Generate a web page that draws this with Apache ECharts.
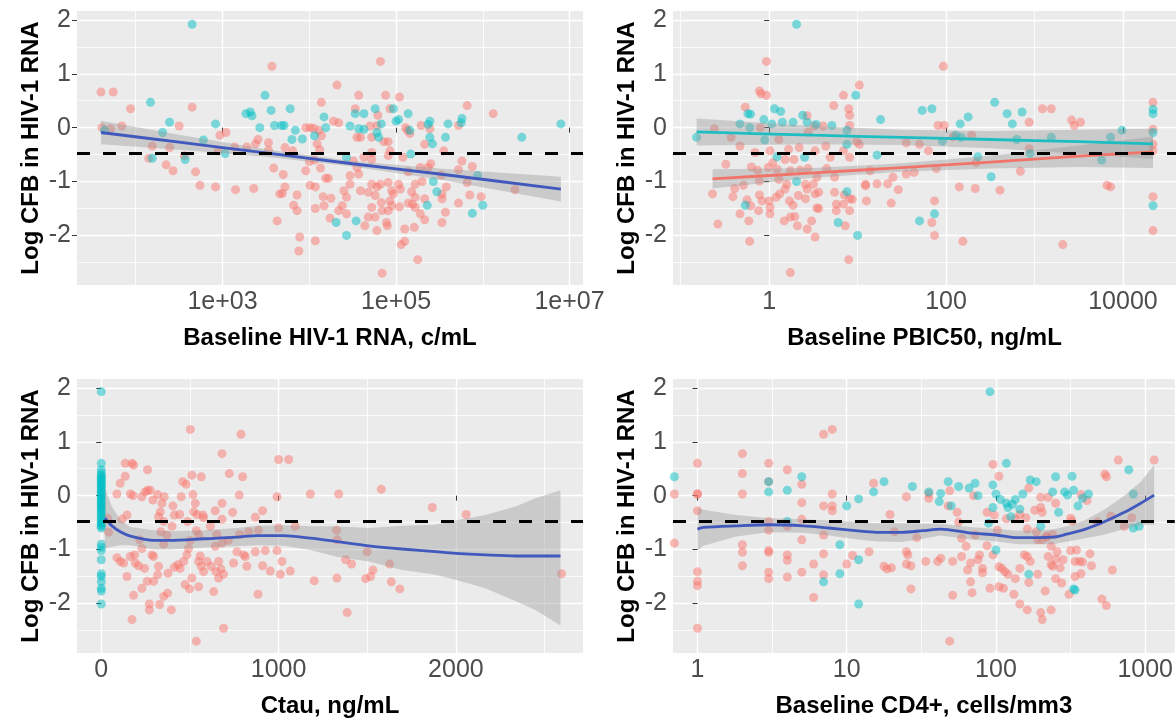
<!DOCTYPE html>
<html><head><meta charset="utf-8">
<script src="https://cdn.jsdelivr.net/npm/echarts@6/dist/echarts.min.js"></script>
<style>html,body{margin:0;padding:0;background:#fff}#c{width:1176px;height:721px}</style>
</head><body><div id="c"></div>
<script>
// ---------- shared ----------
const yTitle = 'Log CFB in HIV-1 RNA';
const yMajor = [-2, -1, 0, 1, 2];
const yMinor = [-2.5, -1.5, -0.5, 0.5, 1.5];
const yRange = [-2.92, 2.165];
const refLine = -0.48;

// ---------- panel 1: Baseline HIV-1 RNA (log10 c/mL) ----------
const hivTitle = 'Baseline HIV-1 RNA, c/mL';
const hivRange = [1.323, 7.155];
const hivMajor = [3, 5, 7];
const hivMinor = [2, 4, 6];
const hivLabels = ['1e+03', '1e+05', '1e+07'];
const hivLog10Red = [[1.60,0.66],[1.74,0.66],[1.94,0.35],[1.61,0.00],[1.71,-0.02],[1.84,0.03],[2.50,0.03],[2.65,0.38],[2.19,-0.34],[2.39,-0.37],[2.15,-0.57],[2.56,-0.52],[2.35,-0.69],[2.43,-0.80],[2.69,-0.82],[2.74,-1.07],[2.92,-1.10],[3.15,-1.15],[3.36,-1.13],[2.97,-0.14],[3.04,-0.09],[2.95,-0.43],[3.14,-0.36],[3.28,-0.36],[3.38,-0.30],[3.41,-0.22],[3.53,-0.28],[3.53,-0.42],[3.57,1.14],[3.59,-0.75],[3.70,-0.87],[3.72,-1.10],[3.66,-1.23],[3.69,-1.22],[3.72,-0.37],[3.81,-0.43],[3.86,-1.25],[3.82,-1.44],[3.86,-1.54],[3.63,-1.73],[3.89,-2.03],[3.88,-2.29],[3.96,0.00],[4.01,0.00],[4.05,-0.01],[4.11,-0.05],[4.14,0.47],[4.14,-0.15],[4.09,-0.30],[4.12,-0.41],[3.96,-0.80],[4.00,-0.63],[4.06,-0.60],[4.13,-0.75],[4.01,-1.07],[4.07,-1.10],[4.16,-1.28],[4.25,-1.31],[4.17,-1.45],[4.07,-1.50],[4.24,-1.68],[4.07,-2.10],[4.19,-0.94],[4.22,-0.94],[4.28,0.12],[4.32,0.79],[4.34,0.09],
[4.82,1.23],[4.57,0.60],[4.88,0.60],[5.04,0.57],[4.53,0.35],[4.93,0.35],[4.79,0.23],[4.78,0.04],[4.70,0.03],[4.55,-0.18],[4.59,-0.18],[4.72,-0.18],[4.86,-0.26],[4.91,-0.26],[4.93,-0.43],[4.72,-0.46],[4.63,-0.55],[4.72,-0.59],[4.51,-0.62],[4.55,-0.74],[4.57,-0.86],[4.47,-0.89],[5.08,-0.55],[5.11,0.00],[5.13,-0.05],[5.16,-0.11],[5.29,0.04],[5.39,-0.02],[5.33,-0.31],[5.55,-0.43],[5.72,0.04],[5.82,0.41],[6.12,0.26],[5.76,-0.62],[5.72,-0.78],[5.88,-0.72],[5.82,-1.02],[5.40,-0.67],[5.37,-0.74],[5.28,-0.74],[5.14,-0.82],[5.52,-0.88],[5.58,-1.10],[5.22,-1.05],[5.30,-1.00],[5.18,-1.19],[5.22,-1.29],[5.19,-1.42],[5.14,-1.40],[5.22,-1.48],[5.33,-1.32],[5.53,-1.23],[5.53,-1.32],[5.72,-1.40],[5.85,-1.25],[5.98,-1.28],[5.57,-1.57],[5.53,-1.76],[5.33,-1.71],[5.28,-1.60],[5.21,-1.85],[5.10,-1.88],[5.10,-2.11],[5.06,-2.17],[5.25,-2.45],[4.84,-2.70],[5.04,-1.47],[4.95,-1.17],[4.93,-1.36],[4.95,-1.45],[4.91,-1.54],[4.84,-1.54],[4.89,-1.76],[4.90,-1.82],[4.78,-1.91],[4.76,-1.66],[4.64,-1.82],[4.68,-1.66],[4.72,-1.48],[4.83,-1.39],[4.76,-1.26],[4.68,-1.20],[4.78,-1.10],[4.72,-1.05],[4.82,-1.05],[4.91,-1.02],[5.03,-1.05],[5.05,-1.14],[4.59,-1.17],[4.47,-1.05],[4.43,-1.29],[4.38,-1.45],[4.34,-1.54],[4.43,-1.60],[4.40,-1.17],[6.37,-1.15],[4.97,-1.23],[4.91,-0.52]];
const hivLog10Teal = [[1.64,-0.05],[2.65,1.92],[2.17,0.47],[2.39,0.10],[2.31,-0.09],[2.78,-0.23],[2.92,0.07],[2.19,-0.57],[2.57,-0.59],[3.03,-0.48],[3.49,0.60],[3.27,0.26],[3.32,0.29],[3.34,0.22],[3.43,0.00],[3.56,0.32],[3.60,0.04],[3.68,0.04],[3.71,0.04],[3.78,0.35],[3.84,-0.05],[3.80,-0.22],[3.92,-0.21],[4.06,-0.15],[4.17,0.20],[4.19,0.00],[4.31,-1.76],
[4.53,0.26],[4.63,0.26],[4.47,0.03],[4.57,-0.02],[4.63,-0.03],[4.76,0.35],[4.83,0.07],[4.78,-0.09],[4.80,-0.18],[4.97,0.35],[5.00,0.12],[5.03,0.15],[5.14,0.26],[5.16,-0.05],[5.17,-0.49],[5.39,0.12],[5.37,0.06],[5.39,-0.18],[5.42,-0.30],[5.57,-0.18],[5.60,0.07],[5.76,0.17],[5.75,0.09],[5.43,-1.00],[5.47,-1.19],[5.36,-1.44],[5.88,-1.59],[6.00,-1.44],[5.94,-0.89],[6.45,-0.18],[6.90,0.07],[4.54,-1.73],[4.43,-2.00],[4.43,-0.55]];
const hivFitX  = [1.60, 2.50, 3.50, 4.50, 5.50, 6.90];
const hivFitY  = [-0.09, -0.27, -0.47, -0.67, -0.86, -1.14];
const hivFitLo = [-0.31, -0.41, -0.54, -0.72, -0.96, -1.37];
const hivFitHi = [0.13, -0.13, -0.40, -0.62, -0.76, -0.91];

// ---------- panel 2: Baseline PBIC50 (log10 ng/mL) ----------
const pbicTitle = 'Baseline PBIC50, ng/mL';
const pbicRange = [-1.087, 4.60];
const pbicMajor = [0, 2, 4];
const pbicMinor = [-1, 1, 3];
const pbicLabels = ['1', '100', '10000'];
const pbicLog10Red = [[-0.03,1.23],[-0.11,0.68],[-0.09,0.63],[-0.03,0.60],[-0.27,0.38],[-0.62,-0.02],[-0.43,-0.18],[-0.33,-0.34],[-0.16,-0.46],[0.01,-0.43],[-0.10,0.00],[0.11,-0.22],[0.22,-0.40],[0.34,-0.37],[0.43,0.22],[0.44,-0.08],[0.51,0.03],[0.52,-0.43],[0.61,0.03],[0.64,-0.34],[0.69,-0.55],[0.73,0.41],[0.84,0.60],[0.90,0.35],[0.91,0.23],[0.91,0.04],[0.84,-0.43],[0.91,-0.55],[1.02,0.79],[0.99,-0.26],[1.02,-0.31],[-0.49,-0.68],[-0.20,-0.73],[-0.13,-0.79],[-0.01,-0.74],[0.04,-0.65],[0.09,-0.77],[0.18,-0.59],[0.28,-0.59],[0.24,-0.80],[0.35,-0.79],[0.44,-0.76],[0.65,-0.76],[0.74,-0.92],[0.54,-0.92],[0.41,-1.05],[0.20,-1.05],[0.11,-0.96],[-0.11,-0.99],[-0.29,-1.07],[-0.39,-1.13],[-0.41,-1.28],[-0.64,-1.23],[-0.58,-1.79],[-0.25,-1.34],[-0.21,-1.45],[-0.33,-1.60],[-0.23,-1.73],[-0.22,-2.11],[-0.11,-1.25],[-0.08,-1.36],[0.00,-1.36],[0.01,-1.48],[0.01,-1.60],[-0.12,-1.54],[0.08,-1.29],[0.12,-1.23],[0.18,-1.14],[0.23,-1.36],[0.27,-1.44],[0.33,-1.26],[0.41,-1.32],[0.43,-1.14],[0.52,-1.23],[0.50,-1.05],[0.56,-1.20],[0.54,-1.49],[0.56,-1.50],[0.48,-1.73],[0.43,-1.88],[0.52,-2.03],[0.32,-1.82],[0.24,-1.66],[0.17,-1.73],[0.24,-2.69],[0.29,-1.65],[0.74,-1.20],[0.76,-1.42],[0.76,-1.54],[0.85,-1.25],[0.84,-1.42],[0.91,-1.32],[0.94,-1.33],[0.91,-1.54],[0.86,-1.82],[0.90,-2.45],[1.09,-1.05],[1.09,-1.08],[1.14,-0.80],[1.10,-1.36],[1.22,-1.04],[1.34,-1.04],[1.38,-1.40],[1.40,-0.92],[1.46,-1.15],[1.55,-0.28],[1.55,-0.86],[1.64,-0.83],[1.70,-0.31],
[1.97,1.14],[1.91,0.04],[1.98,0.04],[2.08,-0.17],[2.29,-0.14],[1.80,-0.43],[1.89,-0.76],[2.15,-1.10],[2.33,-1.13],[2.61,-1.16],[1.87,-1.36],[1.84,-1.76],[1.87,-2.00],[2.19,-2.11],[2.34,-0.65],[2.84,-0.81],[2.94,0.10],[2.94,-0.39],[3.09,0.35],[3.19,0.35],[3.42,0.14],[3.45,0.04],[3.52,0.10],[3.32,-2.17],[3.82,-1.07],[3.86,-1.10],[4.34,0.47],[4.34,-0.03],[4.34,-0.31],[4.34,-0.43],[4.34,-1.28],[4.34,-1.91]];
const pbicLog10Teal = [[0.31,1.92],[-0.82,-0.18],[-0.24,0.26],[-0.21,0.25],[-0.33,0.07],[-0.22,0.00],[-0.06,0.15],[0.06,0.35],[0.13,0.30],[0.03,0.07],[0.15,0.10],[-0.05,-0.23],[0.27,0.10],[0.38,0.23],[0.43,0.10],[0.53,0.06],[0.71,0.04],[0.88,-0.05],[0.88,-0.31],[0.98,0.60],[1.26,0.15],[1.22,-0.51],[0.40,-0.55],[0.09,-0.54],[0.31,-1.00],[-0.27,-1.44],[0.88,-1.19],[0.78,-1.76],[1.00,-2.00],[1.73,0.32],[1.70,-1.73],
[1.84,0.35],[2.16,0.07],[2.25,0.20],[1.96,-0.25],[2.11,-0.14],[2.17,-0.18],[2.36,-0.54],[2.51,-0.91],[2.55,0.47],[2.69,0.26],[2.75,0.07],[2.86,0.29],[2.80,-0.22],[2.95,-0.48],[3.19,-0.18],[3.76,-0.60],[3.86,-0.18],[3.99,-0.05],[4.34,0.34],[4.34,0.26],[4.34,-0.09],[4.34,-1.45],[1.87,-1.60]];
const pbicTealFitX  = [-0.82, 0.50, 1.50, 2.50, 3.50, 4.34];
const pbicTealFitY  = [-0.08, -0.14, -0.18, -0.22, -0.26, -0.30];
const pbicTealFitLo = [-0.33, -0.31, -0.32, -0.38, -0.48, -0.58];
const pbicTealFitHi = [0.17, 0.03, -0.04, -0.06, -0.04, -0.02];
const pbicRedFitX  = [-0.64, 0.50, 1.50, 2.50, 3.50, 4.34];
const pbicRedFitY  = [-0.95, -0.84, -0.74, -0.64, -0.53, -0.45];
const pbicRedFitLo = [-1.13, -0.93, -0.82, -0.76, -0.73, -0.75];
const pbicRedFitHi = [-0.77, -0.75, -0.66, -0.52, -0.33, -0.17];

// ---------- panel 3: Ctau (ng/mL) ----------
const ctauTitle = 'Ctau, ng/mL';
const ctauRange = [-137, 2717];
const ctauMajor = [0, 1000, 2000];
const ctauMinor = [500, 1500, 2500];
const ctauRed = [[36,-0.42],[41,-0.68],[88,0.03],[107,0.23],[135,0.36],[135,0.60],[173,0.60],[182,0.57],[261,0.48],[117,-0.44],[145,-0.36],[164,0.03],[179,0.00],[229,-0.02],[248,0.07],[261,0.10],[276,0.10],[291,-0.08],[318,0.02],[342,-0.14],[355,-0.02],[333,-0.30],[323,-0.39],[352,-0.48],[404,-0.19],[412,-0.36],[451,-0.02],[459,0.26],[479,0.21],[511,0.38],[517,0.02],[530,-0.14],[521,-0.30],[540,-0.35],[564,0.35],[573,-0.36],[577,-0.41],[502,1.23],[643,-0.28],[681,-0.14],[681,-0.44],[681,0.78],[722,0.41],[741,-0.31],[778,0.01],[797,0.35],[788,1.14],[869,-0.40],[910,-0.28],[991,-0.02],[1000,0.67],[1057,0.67],[1179,0.03],[1339,0.03],[1000,-0.60],[1094,-0.57],[88,-1.15],[107,-1.22],[126,-1.25],[145,-1.50],[182,-1.85],[173,-2.30],[164,-1.13],[188,-1.10],[192,-1.25],[216,-0.82],[229,-0.98],[210,-1.30],[244,-1.35],[259,-1.59],[229,-1.72],[271,-2.01],[271,-2.12],[286,-1.10],[295,-1.13],[323,-1.31],[318,-1.47],[295,-1.59],[329,-2.02],[352,-1.87],[374,-1.81],[395,-2.12],[336,-0.67],[370,-0.73],[399,-0.57],[352,-0.90],[376,-1.44],[412,-1.33],[432,-1.28],[445,-1.35],[464,-1.22],[483,-1.10],[473,-1.65],[498,-1.73],[549,-1.69],[511,-1.53],[492,-0.98],[502,-0.83],[536,-0.65],[549,-0.73],[558,-1.12],[564,-1.31],[549,-1.22],[577,-1.41],[596,-1.22],[620,-1.31],[634,-1.78],[647,-1.41],[662,-1.22],[662,-1.53],[675,-1.36],[690,-1.46],[690,-2.46],[536,-2.70],[643,-0.94],[681,-0.88],[716,-0.83],[746,-1.25],[765,-1.04],[803,-1.10],[812,-1.13],[821,-1.31],[869,-1.04],[884,-1.83],[910,-1.30],[925,-1.02],[953,-1.40],[991,-1.02],[1019,-1.22],[1010,-1.46],[1066,-1.40],[1201,-1.58],[1329,-1.53],[831,-0.67],[886,-0.64],[780,-0.72],[652,-0.72],[615,-0.57],[442,-0.35],[487,-0.48],
[1579,0.12],[1867,-0.22],[2058,-0.35],[1327,-0.64],[1331,-0.82],[1500,-1.04],[1378,-1.19],[1412,-1.27],[1532,-1.38],[1519,-1.50],[1491,-1.54],[1626,-1.27],[1636,-1.60],[1684,-1.73],[1387,-2.17],[2596,-1.45]];
const ctauTeal = [[0,1.93],[0,0.60],[0,0.48],[0,0.42],[0,0.38],[0,0.35],[0,0.32],[0,0.29],[0,0.26],[0,0.23],[0,0.20],[0,0.17],[0,0.14],[0,0.10],[0,0.07],[0,0.04],[0,0.01],[0,-0.02],[0,-0.05],[0,-0.08],[0,-0.11],[0,-0.14],[0,-0.17],[0,-0.20],[0,-0.23],[0,-0.26],[0,-0.30],[0,-0.33],[0,-0.36],[0,-0.40],[0,-0.44],[0,-0.48],[0,-0.51],[0,-0.54],[0,-0.57],[0,-0.60],[0,-0.90],[0,-0.96],[0,-1.02],[0,-1.19],[0,-1.45],[0,-1.50],[0,-1.60],[0,-1.72],[0,-1.77],[0,-2.01]];
const ctauFitX  = [20, 60, 107, 164, 295, 389, 577, 765, 878, 1028, 1179, 1321, 1509, 1697, 1885, 1998, 2167, 2337, 2449, 2590];
const ctauFitY  = [-0.42, -0.56, -0.67, -0.75, -0.83, -0.83, -0.80, -0.77, -0.74, -0.74, -0.79, -0.85, -0.93, -0.99, -1.04, -1.07, -1.10, -1.12, -1.12, -1.12];
const ctauFitHi = [0.14, -0.20, -0.45, -0.58, -0.64, -0.66, -0.64, -0.60, -0.56, -0.55, -0.57, -0.57, -0.60, -0.56, -0.54, -0.46, -0.36, -0.20, -0.05, 0.10];
const ctauFitLo = [-0.98, -0.95, -0.92, -0.92, -1.00, -1.00, -0.96, -0.94, -0.92, -0.93, -1.01, -1.13, -1.22, -1.38, -1.47, -1.56, -1.72, -1.96, -2.12, -2.41];

// ---------- panel 4: Baseline CD4+ (log10 cells/mm3) ----------
const cd4Title = 'Baseline CD4+, cells/mm3';
const cd4Range = [-0.164, 3.198];
const cd4Major = [0, 1, 2, 3];
const cd4Minor = [0.5, 1.5, 2.5];
const cd4Labels = ['1', '10', '100', '1000'];
const cd4Log10Red = [[0,0.60],[0,0.03],[0,0.03],[0,-0.28],[0,-1.41],[0,-1.59],[0,-1.67],[0,-2.46],[-0.155,0.03],[-0.155,-0.88],[0.301,0.78],[0.301,0.41],[0.301,0.03],[0.301,-0.91],[0.301,-1.05],[0.301,-1.30],[0.477,0.60],[0.477,0.26],[0.477,-0.48],[0.477,-0.64],[0.477,-1.02],[0.477,-1.05],[0.477,-1.42],[0.477,-1.54],[0.602,0.48],[0.602,-0.57],[0.602,-1.10],[0.602,-1.20],[0.602,-1.51],[0.699,0.21],[0.699,-0.13],[0.699,-0.44],[0.699,-0.82],[0.699,-1.42],[0.778,-1.27],[0.778,-1.89],[0.845,1.14],[0.903,1.23],[0.845,-0.19],[0.903,0.03],[0.903,-0.19],[0.903,-0.28],[0.845,-0.73],[0.845,-1.08],[0.845,-1.47],[1.00,-1.27],[1.04,-1.11],[1.15,-1.04],[1.18,0.23],[1.29,-0.35],[1.32,-0.67],[1.25,-1.31],[1.27,-1.36],[1.30,-1.34],[1.40,-0.02],[1.40,-1.04],[1.41,-1.10],[1.40,-1.27],[1.43,-1.30],[1.43,-1.73],[1.47,-0.78],
[1.55,0.04],[1.55,-0.05],[1.69,0.09],[1.68,-0.19],[1.74,-0.31],[1.75,-0.49],[1.77,-0.79],[1.80,-0.94],[1.77,-1.13],[1.71,-1.22],[1.63,-1.16],[1.61,-1.22],[1.53,-1.22],[1.83,-1.25],[1.81,-1.38],[1.83,-1.60],[1.84,-1.80],[1.71,-1.85],[1.69,-2.70],[1.85,0.00],[1.86,-0.73],[1.89,-1.10],[1.88,-1.19],[1.91,-1.35],[1.91,-1.43],[1.94,-0.93],[1.98,-1.10],[1.94,-0.31],[1.98,0.58],[2.02,0.36],[1.99,-0.36],[2.02,-1.32],[2.04,-1.35],[2.06,-1.41],[2.08,-1.46],[1.96,-1.72],[2.02,-1.69],[2.05,-1.72],[2.01,-0.64],[2.07,-0.43],[2.13,-0.43],[2.16,-0.35],[2.20,-0.41],[2.13,-1.54],[2.16,-1.35],[2.12,-1.83],[2.16,-2.01],[2.19,-1.10],[2.21,-1.13],[2.23,-1.22],[2.22,-1.61],[2.21,-2.12],[2.22,0.14],[2.21,-0.62],[2.27,-0.67],[2.28,-0.82],[2.31,-0.82],[2.28,-1.46],[2.30,-2.17],[2.31,-2.30],[2.33,-1.77],[2.37,-2.12],[2.26,-0.27],[2.30,-0.22],[2.31,-0.31],[2.30,-0.03],[2.35,-0.03],[2.40,-0.14],[2.34,-0.77],[2.38,-0.72],[2.35,-1.13],[2.37,-1.28],[2.38,-1.31],[2.41,-1.04],[2.40,-1.18],[2.43,-1.34],[2.37,-0.94],[2.45,-1.19],[2.40,-1.54],[2.44,-1.62],[2.34,-0.75],[2.50,-0.42],[2.51,-0.47],[2.50,-1.02],[2.54,-1.01],[2.53,-1.22],[2.56,-1.22],[2.53,-1.50],[2.57,-1.45],[2.49,-1.83],[2.58,-1.23],[2.63,-1.08],[2.64,-1.30],[2.57,0.02],[2.61,-0.09],[2.68,-0.49],[2.73,0.40],[2.74,0.35],[2.77,-0.38],[2.78,-1.38],[2.71,-1.92],[2.74,-2.04],[2.82,0.66],[2.86,-0.57],[2.91,-0.41],[3.06,0.66]];
const cd4Log10Teal = [[-0.155,0.35],[0.699,0.35],[0.477,0.07],[0.477,0.26],[0.602,0.10],[1.00,-0.19],[1.08,-0.06],[1.18,0.07],[1.25,0.26],[1.44,0.17],[0.602,-0.48],[0.954,-0.91],[1.08,-1.19],[0.954,-1.45],[0.845,-1.60],[1.08,-2.01],
[1.96,1.93],[2.07,0.60],[1.55,0.07],[1.63,0.04],[1.62,-0.11],[1.68,0.26],[1.75,0.17],[1.70,-0.19],[1.82,0.14],[1.86,0.23],[1.88,0.00],[1.98,0.20],[2.00,0.03],[2.03,-0.07],[1.98,-0.22],[2.07,-0.14],[2.08,-0.22],[2.11,-0.16],[2.13,-0.07],[2.16,-0.25],[2.18,0.03],[2.23,0.29],[2.27,0.26],[2.10,-0.39],[1.95,-0.51],[2.00,-1.01],[2.30,-0.57],[2.38,0.07],[2.40,0.35],[2.42,-0.31],[2.46,0.07],[2.48,0.01],[2.51,0.36],[2.52,0.10],[2.55,-0.19],[2.58,-0.05],[2.62,0.03],[2.22,-1.46],[2.52,-1.73],[2.53,-1.75],[2.89,0.48],[2.92,0.03],[2.92,-0.60],[2.96,-0.57]];
const cd4FitX  = [0, 0.04, 0.26, 0.48, 0.71, 0.88, 1.06, 1.20, 1.37, 1.51, 1.63, 1.82, 2.00, 2.15, 2.38, 2.48, 2.60, 2.73, 2.86, 2.97, 3.06];
const cd4FitY  = [-0.62, -0.59, -0.56, -0.54, -0.56, -0.60, -0.65, -0.68, -0.68, -0.65, -0.62, -0.69, -0.73, -0.78, -0.77, -0.71, -0.62, -0.48, -0.31, -0.14, 0.01];
const cd4FitHi = [-0.23, -0.26, -0.36, -0.42, -0.44, -0.46, -0.49, -0.51, -0.51, -0.52, -0.52, -0.58, -0.62, -0.65, -0.63, -0.57, -0.45, -0.25, 0.00, 0.26, 0.57];
const cd4FitLo = [-1.02, -0.93, -0.76, -0.68, -0.69, -0.74, -0.81, -0.85, -0.86, -0.80, -0.74, -0.81, -0.85, -0.90, -0.90, -0.85, -0.79, -0.72, -0.62, -0.54, -0.54];

// ---------- styling ----------
const FONT = '"Liberation Sans", Arial, Helvetica, sans-serif';
const RED = 'rgba(248,118,109,0.62)';
const TEAL = 'rgba(0,191,196,0.62)';
const BLUE = '#4158BD';
const BAND = 'rgba(153,153,153,0.4)';

const panels = [
  {grid:{left:77, top:11, width:506, height:274}, xr:hivRange, xMaj:hivMajor, xMin:hivMinor, xLab:hivLabels, title:hivTitle,
   red:hivLog10Red, teal:hivLog10Teal, fits:[{x:hivFitX,y:hivFitY,lo:hivFitLo,hi:hivFitHi,c:BLUE}]},
  {grid:{left:673, top:11, width:504, height:274}, xr:pbicRange, xMaj:pbicMajor, xMin:pbicMinor, xLab:pbicLabels, title:pbicTitle,
   red:pbicLog10Red, teal:pbicLog10Teal, fits:[{x:pbicTealFitX,y:pbicTealFitY,lo:pbicTealFitLo,hi:pbicTealFitHi,c:'#1DBEC2'},{x:pbicRedFitX,y:pbicRedFitY,lo:pbicRedFitLo,hi:pbicRedFitHi,c:'#F1746B'}]},
  {grid:{left:77, top:379, width:506, height:274}, xr:ctauRange, xMaj:ctauMajor, xMin:ctauMinor, xLab:null, title:ctauTitle,
   red:ctauRed, teal:ctauTeal, fits:[{x:ctauFitX,y:ctauFitY,lo:ctauFitLo,hi:ctauFitHi,c:BLUE}]},
  {grid:{left:673, top:379, width:504, height:274}, xr:cd4Range, xMaj:cd4Major, xMin:cd4Minor, xLab:cd4Labels, title:cd4Title,
   red:cd4Log10Red, teal:cd4Log10Teal, fits:[{x:cd4FitX,y:cd4FitY,lo:cd4FitLo,hi:cd4FitHi,c:BLUE}]}
];

const grid = [], xAxis = [], yAxis = [], series = [];
panels.forEach((p, i) => {
  grid.push(Object.assign({show:true, backgroundColor:'#EBEBEB', borderWidth:0}, p.grid));
  const maj = 2*i;
  xAxis.push({gridIndex:i, type:'value', min:p.xr[0], max:p.xr[1], position:'bottom',
    axisLine:{show:false},
    axisTick:{show:true, length:5, lineStyle:{color:'#333', width:1}, customValues:p.xMaj},
    axisLabel:{customValues:p.xMaj, color:'#4D4D4D', fontSize:25, fontFamily:FONT, margin:5,
      formatter:(v)=>{ if(!p.xLab) return String(v); const k=p.xMaj.indexOf(v); return k>=0?p.xLab[k]:''; }},
    splitLine:{show:true, lineStyle:{color:'#FFFFFF', width:1.4}},
    name:p.title, nameLocation:'middle', nameGap:41,
    nameTextStyle:{fontSize:24, fontWeight:'bold', color:'#000', fontFamily:FONT}});
  xAxis.push({gridIndex:i, type:'value', min:p.xr[0], max:p.xr[1], position:'top',
    axisLine:{show:false}, axisTick:{show:false, customValues:p.xMin}, axisLabel:{show:false},
    splitLine:{show:true, lineStyle:{color:'#FFFFFF', width:0.8}}});
  yAxis.push({gridIndex:i, type:'value', min:yRange[0], max:yRange[1], position:'left',
    axisLine:{show:false},
    axisTick:{show:true, length:5, lineStyle:{color:'#333', width:1}, customValues:yMajor},
    axisLabel:{customValues:yMajor, color:'#4D4D4D', fontSize:25, fontFamily:FONT, margin:6},
    splitLine:{show:true, lineStyle:{color:'#FFFFFF', width:1.4}},
    name:yTitle, nameLocation:'middle', nameGap:34,
    nameTextStyle:{fontSize:24, fontWeight:'bold', color:'#000', fontFamily:FONT}});
  yAxis.push({gridIndex:i, type:'value', min:yRange[0], max:yRange[1], position:'right',
    axisLine:{show:false}, axisTick:{show:false, customValues:yMinor}, axisLabel:{show:false},
    splitLine:{show:true, lineStyle:{color:'#FFFFFF', width:0.8}}});

  series.push({type:'scatter', xAxisIndex:maj, yAxisIndex:maj, data:p.red, symbolSize:9,
    itemStyle:{color:RED}, z:2, silent:true});
  series.push({type:'scatter', xAxisIndex:maj, yAxisIndex:maj, data:p.teal, symbolSize:9,
    itemStyle:{color:TEAL}, z:2, silent:true});
  p.fits.forEach(f => {
    series.push({type:'custom', xAxisIndex:maj, yAxisIndex:maj, z:3, silent:true,
      data:[[f.x[0], f.y[0]]],
      renderItem:(params, api) => {
        const pts = [];
        for (let k = 0; k < f.x.length; k++) pts.push(api.coord([f.x[k], f.hi[k]]));
        for (let k = f.x.length - 1; k >= 0; k--) pts.push(api.coord([f.x[k], f.lo[k]]));
        return {type:'polygon', shape:{points:pts}, style:{fill:BAND}};
      }});
  });
  p.fits.forEach(f => {
    series.push({type:'line', xAxisIndex:maj, yAxisIndex:maj, z:4, silent:true,
      data:f.x.map((x, k) => [x, f.y[k]]), showSymbol:false, smooth:0.3,
      lineStyle:{color:f.c, width:2.8}});
  });
  series.push({type:'line', xAxisIndex:maj, yAxisIndex:maj, z:5, silent:true, data:[],
    markLine:{silent:true, symbol:['none','none'], label:{show:false},
      lineStyle:{color:'#000', width:3, type:[13,13]},
      data:[{yAxis:refLine}]}});
});

const chart = echarts.init(document.getElementById('c'));
chart.setOption({animation:false, grid, xAxis, yAxis, series});
</script></body></html>
